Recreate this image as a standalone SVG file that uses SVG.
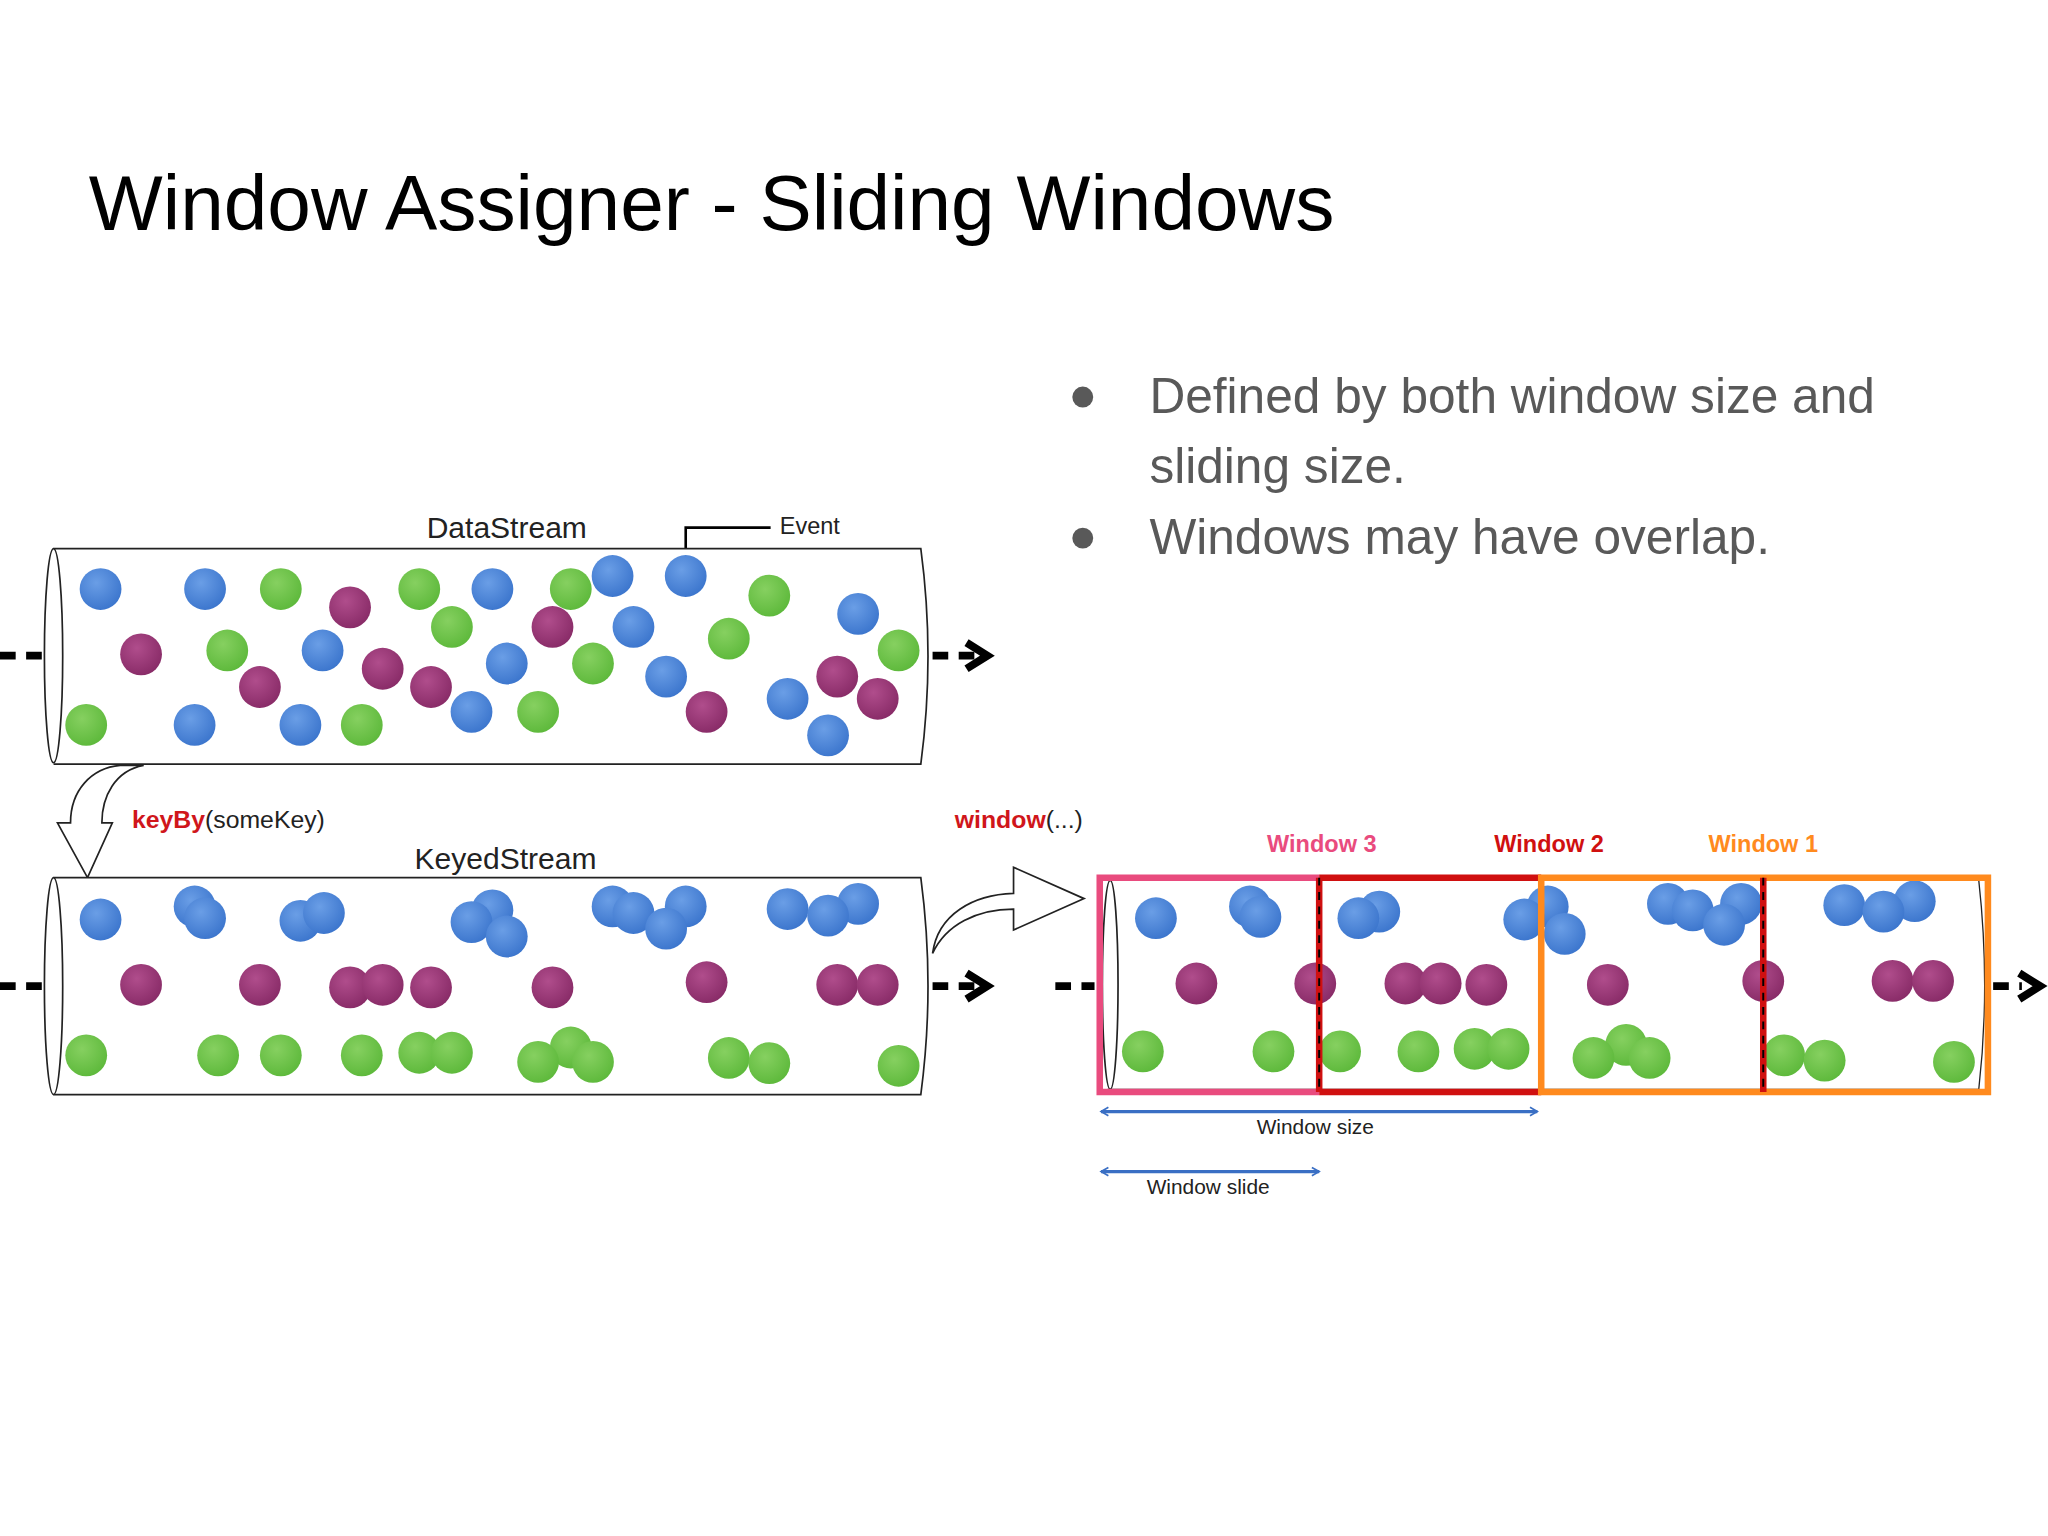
<svg xmlns="http://www.w3.org/2000/svg" width="2048" height="1536" viewBox="0 0 2048 1536">
<defs>
<radialGradient id="gb" cx="0.4" cy="0.35" r="0.7"><stop offset="0" stop-color="#6a9ee6"/><stop offset="1" stop-color="#3a74cc"/></radialGradient>
<radialGradient id="gg" cx="0.4" cy="0.35" r="0.7"><stop offset="0" stop-color="#86d060"/><stop offset="1" stop-color="#5cb83a"/></radialGradient>
<radialGradient id="gp" cx="0.4" cy="0.35" r="0.7"><stop offset="0" stop-color="#b04d8c"/><stop offset="1" stop-color="#872a66"/></radialGradient>
<marker id="ah" viewBox="0 0 10 10" refX="8" refY="5" markerWidth="8" markerHeight="8" orient="auto-start-reverse" markerUnits="userSpaceOnUse"><path d="M1,1 L8,5 L1,9" fill="none" stroke="#3a6fc4" stroke-width="1.6"/></marker>
<style>
.b{fill:url(#gb)} .g{fill:url(#gg)} .p{fill:url(#gp)}
.tube{fill:#fff;stroke:#222;stroke-width:1.3}
.tl{font-family:"Liberation Sans",Arial,sans-serif;fill:#222}
.dash{stroke:#000;stroke-width:6;stroke-dasharray:12 8;fill:none}
.head{fill:none;stroke:#000;stroke-width:6;stroke-linejoin:miter}
.blk{fill:#fff;stroke:#222;stroke-width:1.3}
</style>
</defs>
<rect width="2048" height="1536" fill="#fff"/>
<g transform="scale(1.30612)">
<g id="title"><text x="68" y="176" font-family="Liberation Sans,Arial,sans-serif" font-size="60" fill="#000">Window Assigner - Sliding Windows</text></g>
<g id="bullets" font-family="Liberation Sans,Arial,sans-serif" font-size="38" fill="#595959">
<circle cx="829" cy="304" r="8"/><circle cx="829" cy="412" r="8"/>
<text x="880" y="316">Defined by both window size and</text>
<text x="880" y="370">sliding size.</text>
<text x="880" y="424">Windows may have overlap.</text>
</g>

<g id="connectors">
<path class="dash" d="M0,502 H34"/><path class="dash" d="M714,502 H748"/><path class="head" d="M740,492 L756,502 L740,512"/>
<path class="dash" d="M0,755 H34"/><path class="dash" d="M714,755 H748"/><path class="head" d="M740,745 L756,755 L740,765"/>
<path class="dash" d="M808,755 H838"/><path class="dash" d="M1526,755 H1548"/><path class="head" d="M1546,745 L1562,755 L1546,765"/>
<path class="blk" d="M110,586 C88,590 78,610 78,630 L86,630 L67,672 L44,630 L54,630 C54,605 70,588 92,586 Z"/>
<path class="blk" d="M714,730 C718,700 745,685 776,684 L776,664 L830,688 L776,712 L776,696 C748,696 724,708 714,730 Z"/>
<path d="M525,428 V404 H590" fill="none" stroke="#000" stroke-width="2"/>
<line x1="843" y1="851" x2="1177" y2="851" stroke="#3a6fc4" stroke-width="2.5" marker-start="url(#ah)" marker-end="url(#ah)"/>
<line x1="843" y1="897" x2="1010" y2="897" stroke="#3a6fc4" stroke-width="2.5" marker-start="url(#ah)" marker-end="url(#ah)"/>
</g>

<g id="datastream">
<path class="tube" d="M41,420 H705 Q716,502 705,585 H41"/>
<ellipse class="tube" cx="41" cy="502" rx="7" ry="82"/>
<text class="tl" x="388" y="412" font-size="23" text-anchor="middle">DataStream</text>
<text class="tl" x="597" y="409" font-size="18">Event</text>
<g>
<circle class="b" cx="77" cy="451" r="16"/><circle class="b" cx="157" cy="451" r="16"/><circle class="b" cx="377" cy="451" r="16"/><circle class="b" cx="469" cy="441" r="16"/><circle class="b" cx="525" cy="441" r="16"/><circle class="b" cx="657" cy="470" r="16"/><circle class="b" cx="247" cy="498" r="16"/><circle class="b" cx="485" cy="480" r="16"/><circle class="b" cx="388" cy="508" r="16"/><circle class="b" cx="510" cy="518" r="16"/><circle class="b" cx="603" cy="535" r="16"/><circle class="b" cx="634" cy="563" r="16"/><circle class="b" cx="149" cy="555" r="16"/><circle class="b" cx="230" cy="555" r="16"/><circle class="b" cx="361" cy="545" r="16"/>
<circle class="g" cx="215" cy="451" r="16"/><circle class="g" cx="321" cy="451" r="16"/><circle class="g" cx="437" cy="451" r="16"/><circle class="g" cx="589" cy="456" r="16"/><circle class="g" cx="346" cy="480" r="16"/><circle class="g" cx="174" cy="498" r="16"/><circle class="g" cx="558" cy="489" r="16"/><circle class="g" cx="688" cy="498" r="16"/><circle class="g" cx="454" cy="508" r="16"/><circle class="g" cx="66" cy="555" r="16"/><circle class="g" cx="277" cy="555" r="16"/><circle class="g" cx="412" cy="545" r="16"/>
<circle class="p" cx="268" cy="465" r="16"/><circle class="p" cx="423" cy="480" r="16"/><circle class="p" cx="108" cy="501" r="16"/><circle class="p" cx="199" cy="526" r="16"/><circle class="p" cx="293" cy="512" r="16"/><circle class="p" cx="330" cy="526" r="16"/><circle class="p" cx="641" cy="518" r="16"/><circle class="p" cx="672" cy="535" r="16"/><circle class="p" cx="541" cy="545" r="16"/>
</g>
</g>

<g id="keyby"><text x="101" y="634" font-family="Liberation Sans,Arial,sans-serif" font-size="19" fill="#222"><tspan fill="#d0161b" font-weight="bold">keyBy</tspan>(someKey)</text></g>
<g id="windowop"><text x="731" y="634" font-family="Liberation Sans,Arial,sans-serif" font-size="19" fill="#222"><tspan fill="#d0161b" font-weight="bold">window</tspan>(...)</text></g>

<g id="keyedstream">
<path class="tube" d="M41,672 H705 Q716,755 705,838 H41"/>
<ellipse class="tube" cx="41" cy="755" rx="7" ry="83"/>
<text class="tl" x="387" y="665" font-size="23" text-anchor="middle">KeyedStream</text>
<circle class="b" cx="77" cy="704" r="16"/><circle class="b" cx="149" cy="694" r="16"/><circle class="b" cx="157" cy="703" r="16"/><circle class="b" cx="230" cy="705" r="16"/><circle class="b" cx="248" cy="699" r="16"/><circle class="b" cx="377" cy="697" r="16"/><circle class="b" cx="361" cy="706" r="16"/><circle class="b" cx="388" cy="717" r="16"/><circle class="b" cx="469" cy="694" r="16"/><circle class="b" cx="485" cy="699" r="16"/><circle class="b" cx="525" cy="694" r="16"/><circle class="b" cx="510" cy="711" r="16"/><circle class="b" cx="603" cy="696" r="16"/><circle class="b" cx="657" cy="692" r="16"/><circle class="b" cx="634" cy="701" r="16"/>
<circle class="p" cx="108" cy="754" r="16"/><circle class="p" cx="199" cy="754" r="16"/><circle class="p" cx="268" cy="756" r="16"/><circle class="p" cx="293" cy="754" r="16"/><circle class="p" cx="330" cy="756" r="16"/><circle class="p" cx="423" cy="756" r="16"/><circle class="p" cx="541" cy="752" r="16"/><circle class="p" cx="641" cy="754" r="16"/><circle class="p" cx="672" cy="754" r="16"/>
<circle class="g" cx="66" cy="808" r="16"/><circle class="g" cx="167" cy="808" r="16"/><circle class="g" cx="215" cy="808" r="16"/><circle class="g" cx="277" cy="808" r="16"/><circle class="g" cx="321" cy="806" r="16"/><circle class="g" cx="346" cy="806" r="16"/><circle class="g" cx="437" cy="802" r="16"/><circle class="g" cx="412" cy="813" r="16"/><circle class="g" cx="454" cy="813" r="16"/><circle class="g" cx="558" cy="810" r="16"/><circle class="g" cx="589" cy="814" r="16"/><circle class="g" cx="688" cy="816" r="16"/>
</g>

<g id="windowed">
<path d="M848,674 H1515 Q1524,755 1515,834 H848" fill="#fff" stroke="#222" stroke-width="1"/>
<ellipse cx="850" cy="754" rx="6" ry="80" fill="none" stroke="#222" stroke-width="1.3"/>
<circle class="b" cx="885" cy="703" r="16"/><circle class="b" cx="957" cy="694" r="16"/><circle class="b" cx="965" cy="702" r="16"/><circle class="b" cx="1056" cy="698" r="16"/><circle class="b" cx="1040" cy="703" r="16"/><circle class="b" cx="1185" cy="694" r="16"/><circle class="b" cx="1167" cy="704" r="16"/><circle class="b" cx="1198" cy="715" r="16"/><circle class="b" cx="1277" cy="692" r="16"/><circle class="b" cx="1296" cy="697" r="16"/><circle class="b" cx="1333" cy="692" r="16"/><circle class="b" cx="1320" cy="708" r="16"/><circle class="b" cx="1412" cy="693" r="16"/><circle class="b" cx="1466" cy="690" r="16"/><circle class="b" cx="1442" cy="698" r="16"/>
<circle class="p" cx="916" cy="753" r="16"/><circle class="p" cx="1007" cy="753" r="16"/><circle class="p" cx="1076" cy="753" r="16"/><circle class="p" cx="1103" cy="753" r="16"/><circle class="p" cx="1138" cy="754" r="16"/><circle class="p" cx="1231" cy="754" r="16"/><circle class="p" cx="1350" cy="751" r="16"/><circle class="p" cx="1449" cy="751" r="16"/><circle class="p" cx="1480" cy="751" r="16"/>
<circle class="g" cx="875" cy="805" r="16"/><circle class="g" cx="975" cy="805" r="16"/><circle class="g" cx="1026" cy="805" r="16"/><circle class="g" cx="1086" cy="805" r="16"/><circle class="g" cx="1129" cy="803" r="16"/><circle class="g" cx="1155" cy="803" r="16"/><circle class="g" cx="1245" cy="800" r="16"/><circle class="g" cx="1220" cy="810" r="16"/><circle class="g" cx="1263" cy="810" r="16"/><circle class="g" cx="1366" cy="808" r="16"/><circle class="g" cx="1397" cy="812" r="16"/><circle class="g" cx="1496" cy="813" r="16"/>
</g>

<g id="window3"><path d="M1010,672 H842 V836 H1010" fill="none" stroke="#e94b7e" stroke-width="5"/>
<text x="1012" y="652" font-family="Liberation Sans,Arial,sans-serif" font-size="18" font-weight="bold" fill="#e94b7e" text-anchor="middle">Window 3</text></g>
<g id="window2"><path d="M1010,672 H1180 M1010,836 H1180" fill="none" stroke="#d01010" stroke-width="5"/>
<text x="1186" y="652" font-family="Liberation Sans,Arial,sans-serif" font-size="18" font-weight="bold" fill="#d01010" text-anchor="middle">Window 2</text></g>
<g id="window1"><path d="M1180,672 H1522 V836 H1180 Z" fill="none" stroke="#ff8a1e" stroke-width="5"/>
<text x="1350" y="652" font-family="Liberation Sans,Arial,sans-serif" font-size="18" font-weight="bold" fill="#ff8a1e" text-anchor="middle">Window 1</text></g>
<g id="dividers">
<line x1="1010" y1="672" x2="1010" y2="836" stroke="#d01010" stroke-width="5"/>
<line x1="1010" y1="672" x2="1010" y2="836" stroke="#000" stroke-width="1.5" stroke-dasharray="6 5"/>
<line x1="1350" y1="672" x2="1350" y2="836" stroke="#d01010" stroke-width="5"/>
<line x1="1350" y1="672" x2="1350" y2="836" stroke="#000" stroke-width="1.5" stroke-dasharray="6 5"/>
</g>
<g id="dims" font-family="Liberation Sans,Arial,sans-serif" font-size="16" fill="#222" text-anchor="middle">
<text x="1007" y="868">Window size</text>
<text x="925" y="914">Window slide</text>
</g>
</g>
</svg>
